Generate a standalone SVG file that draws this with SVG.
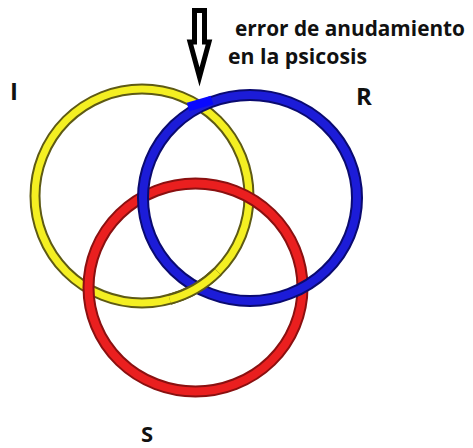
<svg xmlns="http://www.w3.org/2000/svg" width="473" height="448" viewBox="0 0 473 448">
<style>
.lbl{font-family:"Open Sans","Liberation Sans",sans-serif;font-weight:bold;fill:#111}
.edge{fill:none}
.y-o{stroke:#5e5a14;stroke-width:11}
.y-i{stroke:#f4ef22;stroke-width:7}
.b-o{stroke:#0a0a70;stroke-width:12}
.b-i{stroke:#1c1cd8;stroke-width:8}
.r-o{stroke:#8a1010;stroke-width:12}
.r-i{stroke:#ea1f1f;stroke-width:8}
</style>
<rect width="473" height="448" fill="#ffffff"/>
<g id="ring-I">
<circle class="edge y-o" cx="142" cy="196" r="107"/>
<circle class="edge y-i" cx="142" cy="196" r="107"/>
</g>
<g id="ring-S">
<ellipse class="edge r-o" cx="195.5" cy="287.5" rx="107" ry="104"/>
<ellipse class="edge r-i" cx="195.5" cy="287.5" rx="107" ry="104"/>
</g>
<g id="ring-R">
<ellipse class="edge b-o" cx="250" cy="198" rx="107" ry="103"/>
<ellipse class="edge b-i" cx="250" cy="198" rx="107" ry="103"/>
<path d="M188,107 L212,100" stroke="#0808ff" stroke-width="9" fill="none"/>
</g>
<g id="ring-I-over">
<path class="edge y-o" d="M217.7,271.7 A107,107 0 0,1 169.7,299.4"/>
<path class="edge y-i" d="M217.7,271.7 A107,107 0 0,1 169.7,299.4"/>
</g>
<g id="connectors">
<path d="M194.5,10.5 H204.5 V42 H209 L199.5,77 L190,42 H194.5 Z" fill="#ffffff" stroke="#000000" stroke-width="5" stroke-linejoin="miter"/>
</g>
<g id="labels">
<text class="lbl" x="235" y="36" font-size="21" textLength="230" lengthAdjust="spacingAndGlyphs">error de anudamiento</text>
<text class="lbl" x="228" y="64" font-size="21" textLength="139" lengthAdjust="spacingAndGlyphs">en la psicosis</text>
<text class="lbl" x="10" y="100" font-size="24">I</text>
<text class="lbl" x="356" y="105" font-size="24">R</text>
<text class="lbl" x="141" y="442" font-size="22">S</text>
</g>
</svg>
